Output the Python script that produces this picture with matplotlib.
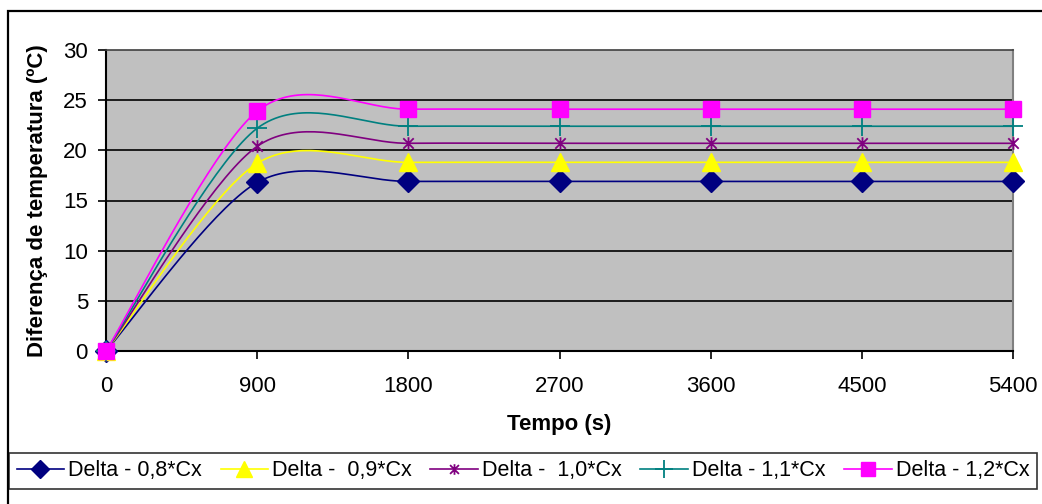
import numpy as np
import matplotlib
matplotlib.use("Agg")
import matplotlib.pyplot as plt
from matplotlib.lines import Line2D
from matplotlib.path import Path
from matplotlib.patches import Rectangle

plt.rcParams.update({
    "font.family": ["Liberation Sans", "DejaVu Sans"],
    "font.size": 16,
})

# ── data ──────────────────────────────────────────────────────────────────────
tempo = [0, 900, 1800, 2700, 3600, 4500, 5400]
delta_08 = [0, 16.8, 16.9, 16.9, 16.9, 16.9, 16.9]
delta_09 = [0, 18.7, 18.8, 18.8, 18.8, 18.8, 18.8]
delta_10 = [0, 20.4, 20.7, 20.7, 20.7, 20.7, 20.7]
delta_11 = [0, 22.2, 22.4, 22.4, 22.4, 22.4, 22.4]
delta_12 = [0, 23.9, 24.1, 24.1, 24.1, 24.1, 24.1]
labels = ["Delta - 0,8*Cx", "Delta -  0,9*Cx", "Delta -  1,0*Cx",
          "Delta - 1,1*Cx", "Delta - 1,2*Cx"]
x_ticks = [0, 900, 1800, 2700, 3600, 4500, 5400]
y_ticks = [0, 5, 10, 15, 20, 25, 30]

# Excel-like star marker: an X with a vertical bar
star = Path([(-1, -1), (1, 1), (-1, 1), (1, -1), (0, -1.2), (0, 1.2)],
            [Path.MOVETO, Path.LINETO, Path.MOVETO, Path.LINETO,
             Path.MOVETO, Path.LINETO])

series = [
    (delta_08, "#000080", "D", 11, 1.0),
    (delta_09, "#FFFF00", "^", 13, 1.0),
    (delta_10, "#800080", star, 9, 1.3),
    (delta_11, "#008080", "+", 15, 1.3),
    (delta_12, "#FF00FF", "s", 12, 1.0),
]


def smooth(x, y, n=40, k=0.15):
    """Excel-style smoothed line (cardinal bezier) through the points."""
    p = np.column_stack([x, y]).astype(float)
    p = np.vstack([p[0], p, p[-1]])
    out = []
    t = np.linspace(0, 1, n)[:, None]
    for i in range(1, len(p) - 2):
        p0, p1, p2, p3 = p[i - 1], p[i], p[i + 1], p[i + 2]
        c1 = p1 + (p2 - p0) * k
        c2 = p2 - (p3 - p1) * k
        seg = ((1 - t) ** 3) * p1 + 3 * t * (1 - t) ** 2 * c1 \
            + 3 * t ** 2 * (1 - t) * c2 + t ** 3 * p2
        out.append(seg)
    out = np.vstack(out)
    return out[:, 0], out[:, 1]


fig = plt.figure(figsize=(10.42, 5.04), dpi=100)
ax = fig.add_axes([106 / 1042, 1 - 351 / 504, 907 / 1042, 301 / 504])
ax.set_facecolor("#C0C0C0")

for yv in y_ticks[1:-1]:
    ax.axhline(yv, color="black", linewidth=1.2, zorder=1)

handles = []
for vals, c, m, ms, mew in series:
    sx, sy = smooth(tempo, vals)
    ax.plot(sx, sy, color=c, linewidth=1.2, zorder=3)
    ax.plot(tempo, vals, linestyle="none", marker=m, markersize=ms,
            color=c, markeredgecolor=c, markeredgewidth=mew,
            zorder=4, clip_on=False)
    handles.append(Line2D([], [], color=c, linewidth=1.2, marker=m,
                          markersize=ms * 0.85, markeredgecolor=c,
                          markeredgewidth=mew))

ax.set_xlim(0, 5400)
ax.set_ylim(0, 30)
ax.set_xticks(x_ticks)
ax.set_yticks(y_ticks)
ax.tick_params(axis="both", direction="out", length=6, width=1.2,
               labelsize=16, color="black")
ax.tick_params(axis="y", pad=7)
ax.tick_params(axis="x", pad=12)
for side in ("left", "bottom"):
    ax.spines[side].set_color("black")
    ax.spines[side].set_linewidth(1.5)
ax.spines["top"].set_color("#404040")
ax.spines["top"].set_linewidth(1.2)
ax.spines["right"].set_color("#808080")
ax.spines["right"].set_linewidth(1.5)

ax.set_xlabel("Tempo (s)", fontsize=16, fontweight="bold", labelpad=12)
ax.set_ylabel("Diferença de temperatura (ºC)", fontsize=16,
              fontweight="bold", labelpad=11)

leg = fig.legend(handles, labels, ncol=5, mode="expand",
                 bbox_to_anchor=(9 / 1042, 1 - 489 / 504, 1028 / 1042, 41 / 504),
                 loc="lower left", fontsize=15.5, frameon=True, fancybox=False,
                 edgecolor="black", handlelength=2.2, handletextpad=0.2,
                 columnspacing=0.3, borderpad=0.35, borderaxespad=0)
leg.get_frame().set_linewidth(1.2)

# outer chart border (runs past the right and bottom edges of the picture)
fig.patches.append(Rectangle((8 / 1042, -0.2), 1.2, 0.2 + (504 - 11) / 504,
                             transform=fig.transFigure, fill=False,
                             edgecolor="black", linewidth=1.6, clip_on=False))

fig.savefig("out.png", dpi=100)
